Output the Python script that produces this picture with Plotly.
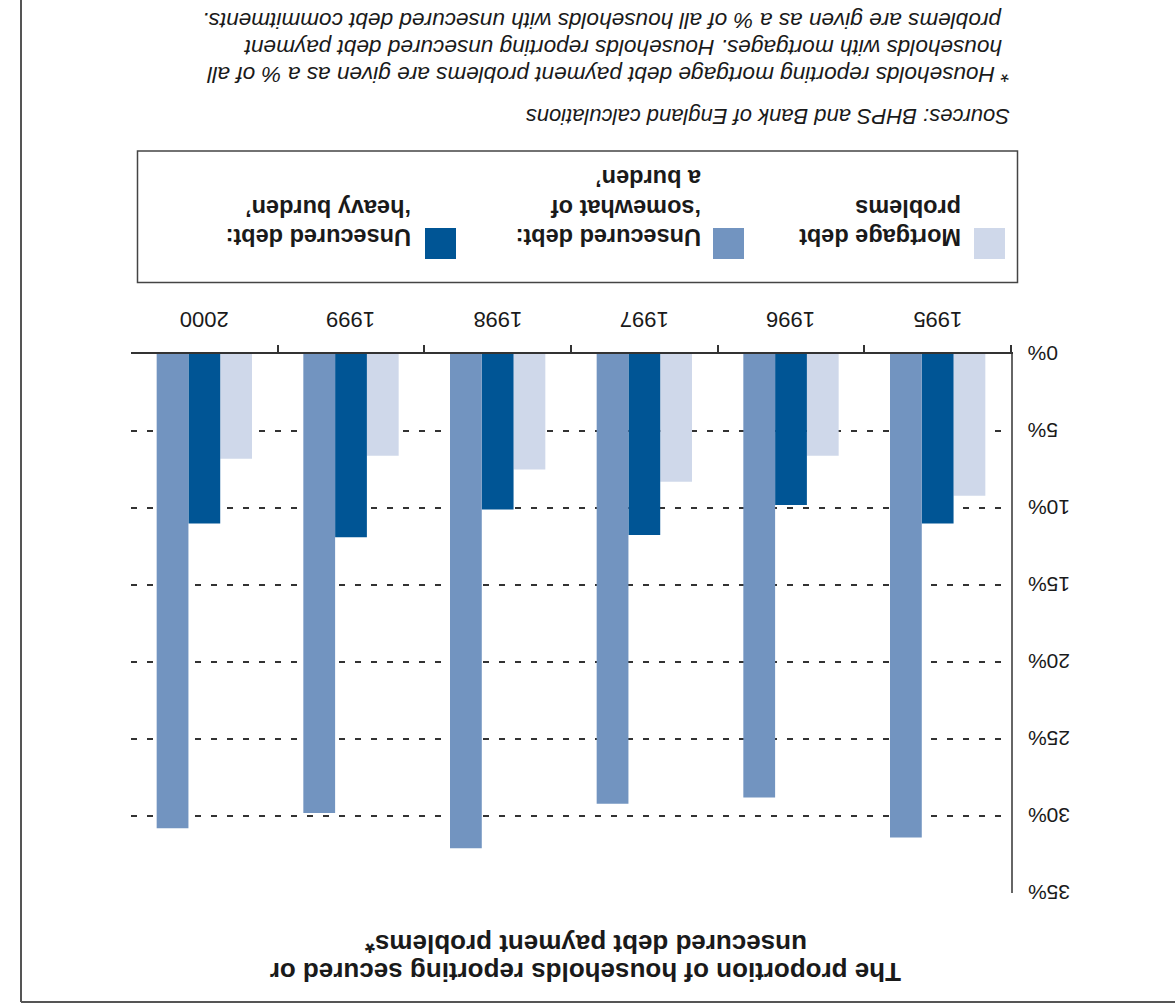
import plotly.graph_objects as go

# Survey years and shares of households reporting payment problems (%)
years = ["1995", "1996", "1997", "1998", "1999", "2000"]
mortgage_problems = [9.2, 6.6, 8.3, 7.5, 6.6, 6.8]
unsecured_heavy = [11.0, 9.8, 11.75, 10.1, 11.9, 11.0]
unsecured_somewhat = [31.4, 28.8, 29.2, 32.1, 29.8, 30.8]

y_tick_values = [0, 5, 10, 15, 20, 25, 30, 35]
y_tick_labels = ["0%", "5%", "10%", "15%", "20%", "25%", "30%", "35%"]

legend_lines = [
    ["Mortgage debt", "problems"],
    ["Unsecured debt:", "‘somewhat of", "a burden’"],
    ["Unsecured debt:", "‘heavy burden’"],
]
title_lines = ["The proportion of households reporting secured or",
               "unsecured debt payment problems*"]
sources_text = "Sources: BHPS and Bank of England calculations"
footnote_lines = [
    "* Households reporting mortgage debt payment problems are given as a % of all",
    "households with mortgages. Households reporting unsecured debt payment",
    "problems are given as a % of all households with unsecured debt commitments.",
]

C_LIGHT = "#cfd8ea"
C_MID = "#7294c0"
C_DARK = "#005595"
FONT = "Liberation Sans, Arial, sans-serif"
TXT = "#1a1a1a"

W, H = 1175, 1005
PL, PR, PT, PB = 131, 1011, 354, 893


def px(x):
    return (x - PL) / (PR - PL)


def py(y):
    return (PB - y) / (PB - PT)


def flipped_text(x, y, text, size, xanchor="right", xref="paper", yref="paper"):
    # every text in this graphic is set upside down
    return dict(xref=xref, yref=yref, x=x, y=y, xanchor=xanchor, yanchor="middle",
                text=text, textangle=180, showarrow=False,
                font=dict(family=FONT, size=size, color=TXT))


fig = go.Figure()
fig.add_trace(go.Bar(x=years, y=mortgage_problems, marker=dict(color=C_LIGHT, line_width=0),
                     name="Mortgage debt problems"))
fig.add_trace(go.Bar(x=years, y=unsecured_heavy, marker=dict(color=C_DARK, line_width=0),
                     name="Unsecured debt: heavy burden"))
fig.add_trace(go.Bar(x=years, y=unsecured_somewhat, marker=dict(color=C_MID, line_width=0),
                     name="Unsecured debt: somewhat of a burden"))

shapes = []
annotations = []

# outer frame (left and bottom edges visible)
shapes.append(dict(type="line", xref="paper", yref="paper", x0=px(21), x1=px(21), y0=py(1002), y1=py(-20),
                   line=dict(color="#555", width=2)))
shapes.append(dict(type="line", xref="paper", yref="paper", x0=px(21), x1=px(1200), y0=py(1002), y1=py(1002),
                   line=dict(color="#555", width=2)))

# legend box
shapes.append(dict(type="rect", xref="paper", yref="paper", x0=px(137.5), x1=px(1017.5), y0=py(282.5), y1=py(151),
                   line=dict(color="#444", width=1.5), fillcolor="white", layer="below"))

legend_layout = [(C_LIGHT, 974, 963), (C_MID, 713, 703), (C_DARK, 425, 413)]
line_ys = [237, 208, 178]
for (color, sw_x, text_right), lines in zip(legend_layout, legend_lines):
    shapes.append(dict(type="rect", xref="paper", yref="paper", x0=px(sw_x), x1=px(sw_x + 31),
                       y0=py(259), y1=py(228), line_width=0, fillcolor=color))
    for line, ly in zip(lines, line_ys):
        annotations.append(flipped_text(px(text_right), py(ly), "<b>" + line + "</b>", 23.5))

# category labels above the zero line (positioned by category index)
for i, yr in enumerate(years):
    annotations.append(flipped_text(i, py(320), yr, 22, xanchor="center", xref="x"))

# value labels right of the axis
for v, lab in zip(y_tick_values, y_tick_labels):
    annotations.append(flipped_text(px(1026), v, lab, 21, xanchor="left", yref="y"))

# chart title
for line, ly in zip(title_lines, [972.5, 944]):
    annotations.append(flipped_text(px(586), py(ly), "<b>" + line + "</b>", 26, xanchor="center"))

# sources and footnote
annotations.append(flipped_text(px(1012), py(117), "<i>" + sources_text + "</i>", 22))
for line, ly, xr in zip(footnote_lines, [75, 48, 21], [1012, 1004, 1004]):
    annotations.append(flipped_text(px(xr), py(ly), "<i>" + line + "</i>", 22.6))

fig.update_layout(
    width=W, height=H,
    margin=dict(l=PL, r=W - PR, t=PT, b=H - PB),
    paper_bgcolor="white", plot_bgcolor="white",
    barmode="group", bargap=0.35, bargroupgap=0,
    showlegend=False,
    shapes=shapes, annotations=annotations,
    font=dict(family=FONT, color=TXT),
)
fig.update_xaxes(
    type="category", categoryorder="array", categoryarray=years,
    range=[len(years) - 0.5, -0.5], side="top",
    showline=True, linecolor="#333", linewidth=1.5,
    ticks="outside", tickson="boundaries", ticklen=7, tickcolor="#333", tickwidth=1.5,
    showticklabels=False, showgrid=False, zeroline=False,
)
fig.update_yaxes(
    range=[35, 0], side="right",
    tickvals=y_tick_values, showticklabels=False,
    showline=True, linecolor="#666", linewidth=2,
    showgrid=True, gridcolor="#333", gridwidth=1.5, griddash="6px,10px",
    ticks="", zeroline=False,
)

fig.write_html("out.html")
